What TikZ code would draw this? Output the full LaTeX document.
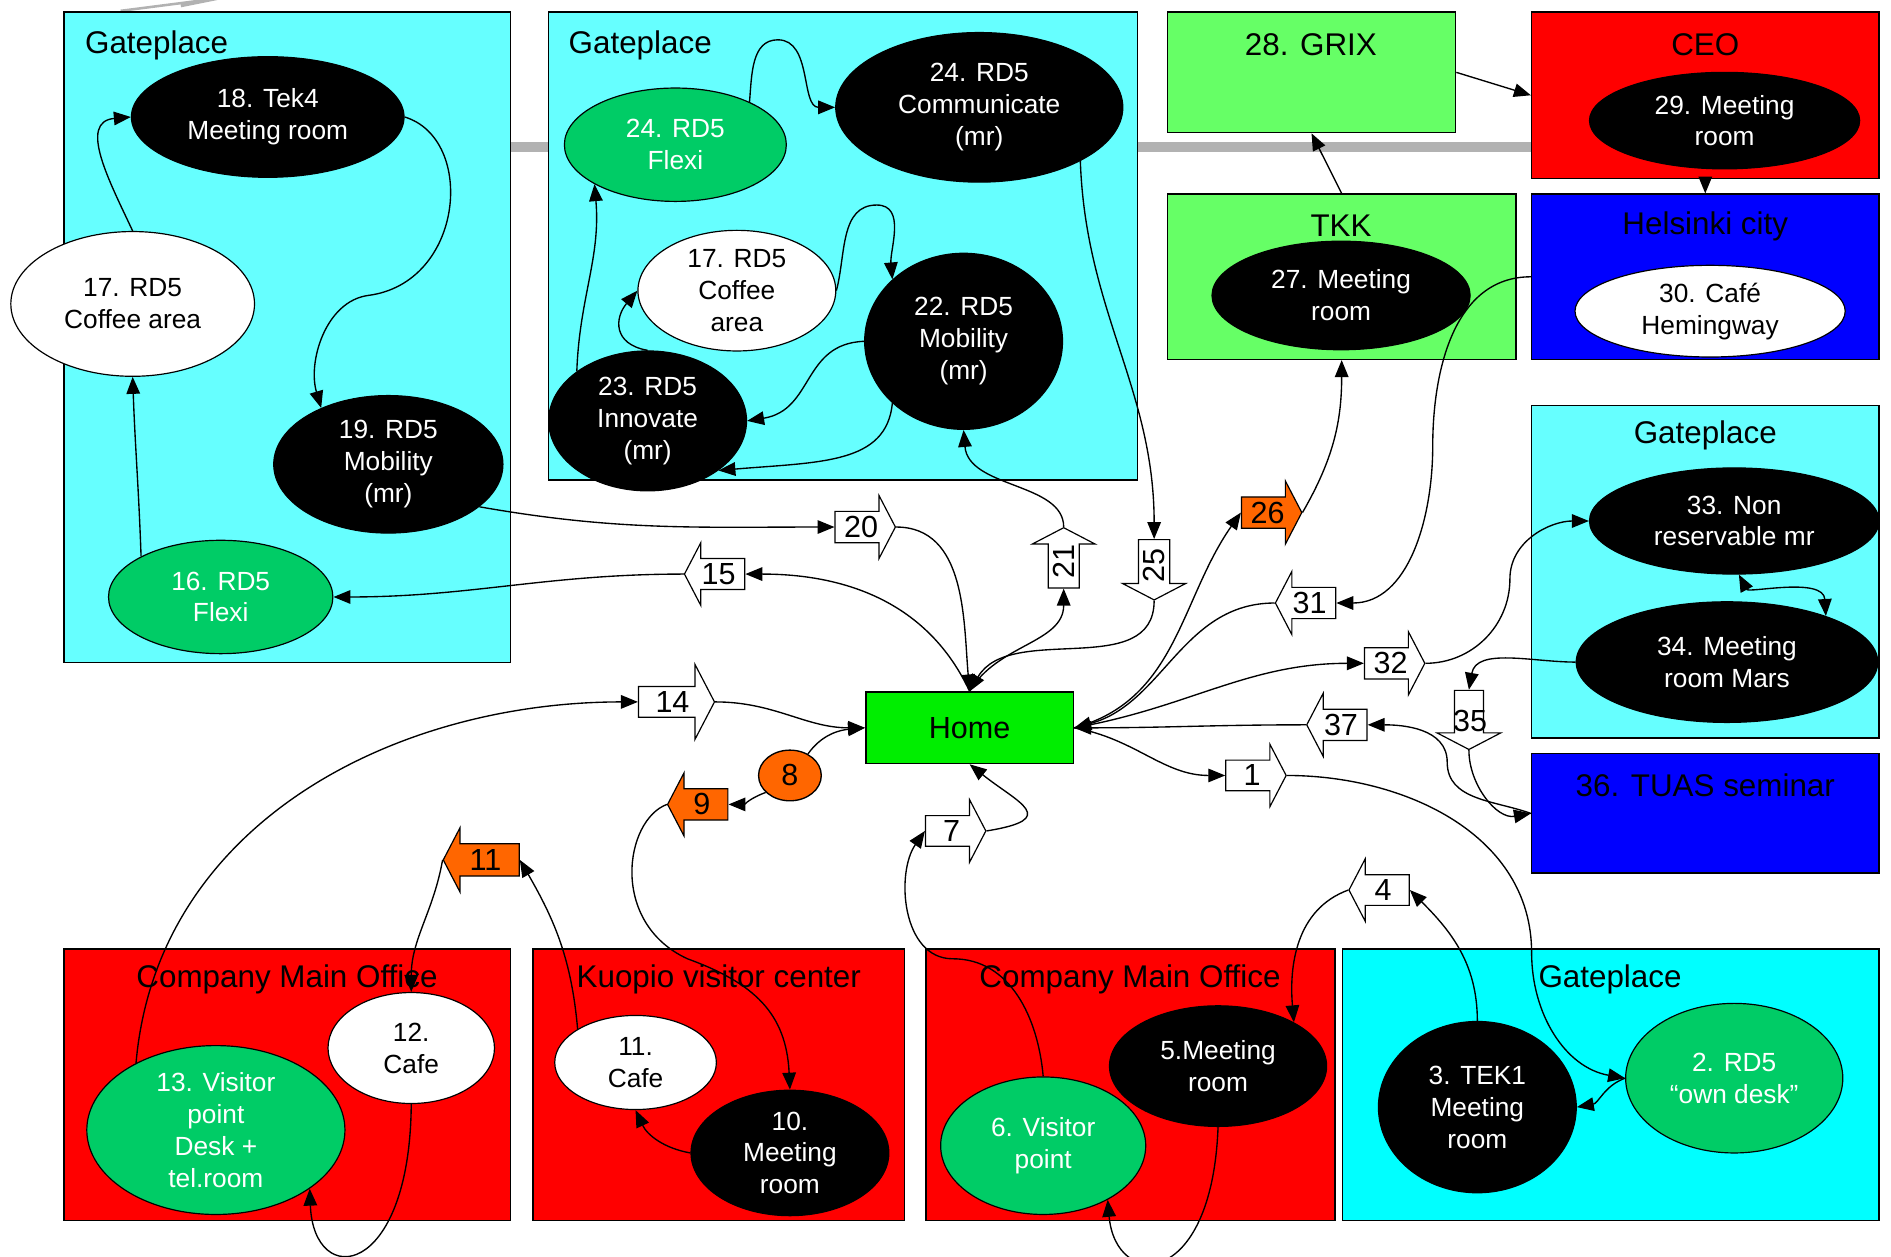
\documentclass[tikz,border=0pt]{standalone}
\usepackage{fontspec}
\setmainfont{Liberation Sans}
\usetikzlibrary{shapes.geometric,shapes.arrows,arrows.meta}

\definecolor{gpcyan}{HTML}{66FFFF}
\definecolor{gpaqua}{HTML}{00FFFF}
\definecolor{grixgreen}{HTML}{66FF66}
\definecolor{homegreen}{HTML}{00EE00}
\definecolor{deskgreen}{HTML}{00CC66}
\definecolor{visorange}{HTML}{FF6600}
\definecolor{bandgray}{HTML}{B2B2B2}

\newcommand{\zonefont}{\fontsize{18.5}{22}\selectfont}
\newcommand{\roomfont}{\fontsize{15.5}{18.8}\selectfont}
\newcommand{\numfont}{\fontsize{18}{21}\selectfont}

\begin{document}
\begin{tikzpicture}[
		x=0.025cm,y=0.025cm,
		>={Triangle[length=10pt,width=8pt]},
		line width=0.8pt,
		zone/.style={rectangle,draw,line width=0.8pt,inner sep=0pt},
		zonetitle/.style={font=\zonefont,inner sep=0pt},
		room/.style={ellipse,draw,line width=0.7pt,inner sep=0pt,align=center,font=\roomfont},
		meet/.style={room,fill=black,text=white},
		flexi/.style={room,fill=deskgreen,text=white},
		cafe/.style={room,fill=white,text=black},
		blockarrow/.style={single arrow,draw,line width=0.7pt,fill=white,font=\numfont,anchor=tip,inner xsep=2pt,inner ysep=2.5pt,single arrow head extend=0.33cm,single arrow tip angle=125,minimum height=1.25cm},
		leftarrow/.style={blockarrow,shape border rotate=180},
		hot/.style={fill=visorange}
		]
		\useasboundingbox (0,0) rectangle (1568,-1042);
		
		% band behind the top row
		\draw[bandgray,line width=5.5pt] (400,-122) -- (1290,-122);
		\draw[bandgray,line width=1.5pt] (100,-9) -- (178,1) (150,-5) -- (180,1);
		
		\node[zone,fill=gpcyan,minimum width=9.25cm,minimum height=13.475cm](gpA) at (238,-279.5){};
		\node[zonetitle,anchor=west](gpAt) at (70,-38){Gateplace};
		\node[meet,minimum width=5.65cm,minimum height=2.5cm](r18) at (222,-97){18. Tek4\\Meeting room};
		\node[cafe,minimum width=5.05cm,minimum height=3cm](r17) at (110,-252){17. RD5\\Coffee area};
		\node[meet,minimum width=4.75cm,minimum height=2.85cm](r19) at (322,-385){19. RD5\\Mobility\\(mr)};
		\node[flexi,minimum width=4.65cm,minimum height=2.35cm](r16) at (183,-495){16. RD5\\Flexi};
		
		\node[zone,fill=gpcyan,minimum width=12.2cm,minimum height=9.7cm](gpB) at (699,-204){};
		\node[zonetitle,anchor=west](gpBt) at (471,-38){Gateplace};
		\node[flexi,minimum width=4.6cm,minimum height=2.35cm](r24f) at (560,-120){24. RD5\\Flexi};
		\node[meet,minimum width=5.95cm,minimum height=3.1cm](r24c) at (812,-89){24. RD5\\Communicate\\(mr)};
		\node[cafe,minimum width=4.1cm,minimum height=2.5cm](r17b) at (611,-241){17. RD5\\Coffee\\area};
		\node[meet,minimum width=4.1cm,minimum height=3.65cm](r22) at (799,-283){22. RD5\\Mobility\\(mr)};
		\node[meet,minimum width=4.1cm,minimum height=2.9cm](r23) at (537,-349){23. RD5\\Innovate\\(mr)};
		
		\node[zone,fill=grixgreen,minimum width=5.975cm,minimum height=2.5cm](grix) at (1087.5,-60){};
		\node[zonetitle](grixt) at (1087,-37){28. GRIX};
		\node[zone,fill=red,minimum width=7.2cm,minimum height=3.45cm](ceo) at (1414,-79){};
		\node[zonetitle](ceot) at (1414,-37){CEO};
		\node[meet,minimum width=5.6cm,minimum height=2cm](r29) at (1430,-100){29. Meeting\\room};
		\node[zone,fill=grixgreen,minimum width=7.225cm,minimum height=3.425cm](tkk) at (1112.5,-229.5){};
		\node[zonetitle](tkkt) at (1112,-187){TKK};
		\node[meet,minimum width=5.35cm,minimum height=2.25cm](r27) at (1112,-245){27. Meeting\\room};
		\node[zone,fill=blue,minimum width=7.2cm,minimum height=3.425cm](hel) at (1414,-229.5){};
		\node[zonetitle](helt) at (1414,-188){Helsinki city};
		\node[cafe,minimum width=5.6cm,minimum height=1.9cm](r30) at (1418,-258){30. Café\\Hemingway};
		
		\node[zone,fill=gpcyan,minimum width=7.2cm,minimum height=6.9cm](gpR) at (1414,-474){};
		\node[zonetitle](gpRt) at (1414,-361){Gateplace};
		\node[meet,minimum width=6cm,minimum height=2.2cm](r33) at (1438,-432){33. Non\\reservable mr};
		\node[meet,minimum width=6.25cm,minimum height=2.5cm](r34) at (1432,-549){34. Meeting\\room Mars};
		\node[zone,fill=blue,minimum width=7.2cm,minimum height=2.475cm](tuas) at (1414,-674.5){};
		\node[zonetitle](tuast) at (1414,-651){36. TUAS seminar};
		
		\node[zone,fill=homegreen,line width=1pt,minimum width=4.3cm,minimum height=1.475cm,font=\numfont](home) at (804,-603.5){Home};
		
		\node[zone,fill=red,minimum width=9.25cm,minimum height=5.625cm](cmoA) at (238,-899.5){};
		\node[zonetitle](cmoAt) at (238,-812){Company Main Office};
		\node[flexi,minimum width=5.35cm,minimum height=3.5cm](r13) at (179,-937){13. Visitor\\point\\Desk +\\tel.room};
		\node[cafe,minimum width=3.45cm,minimum height=2.3cm](r12) at (341,-869){12.\\Cafe};
		\node[zone,fill=red,minimum width=7.7cm,minimum height=5.625cm](kvc) at (596,-899.5){};
		\node[zonetitle](kvct) at (596,-812){Kuopio visitor center};
		\node[cafe,minimum width=3.35cm,minimum height=1.95cm](r11) at (527,-881){11.\\Cafe};
		\node[meet,minimum width=4.1cm,minimum height=2.6cm](r10) at (655,-956){10.\\Meeting\\room};
		\node[zone,fill=red,minimum width=8.475cm,minimum height=5.625cm](cmoB) at (937.5,-899.5){};
		\node[zonetitle](cmoBt) at (937,-812){Company Main Office};
		\node[meet,minimum width=4.5cm,minimum height=2.5cm](r5) at (1010,-884){5.Meeting\\room};
		\node[flexi,minimum width=4.25cm,minimum height=2.85cm](r6) at (865,-950){6. Visitor\\point};
		\node[zone,fill=gpaqua,minimum width=11.125cm,minimum height=5.625cm](gpC) at (1335.5,-899.5){};
		\node[zonetitle](gpCt) at (1335,-812){Gateplace};
		\node[meet,minimum width=4.1cm,minimum height=3.55cm](r3) at (1225,-918){3. TEK1\\Meeting\\room};
		\node[flexi,minimum width=4.5cm,minimum height=3.1cm](r2) at (1438,-894){2. RD5\\“own desk”};
		
		% step arrows
		\node[blockarrow](a1) at (1067,-643){1};
		\node[leftarrow](a4) at (1118,-738){4};
		\node[blockarrow](a7) at (818,-689){7};
		\node[ellipse,draw,fill=visorange,font=\numfont,minimum width=1.3cm,minimum height=1.05cm,inner sep=0pt](n8) at (655,-643){8};
		\node[leftarrow,hot](a9) at (553,-667){9};
		\node[leftarrow,hot,minimum height=1.575cm,inner ysep=3pt](a11) at (367,-713){11};
		\node[blockarrow,minimum height=1.575cm,single arrow head extend=0.46cm](a14) at (593,-582){14};
		\node[leftarrow](a15) at (567,-476){15};
		\node[blockarrow](a20) at (743,-437){20};
		\node[blockarrow,rotate=90](a21) at (882,-437){21};
		\node[leftarrow,rotate=90](a25) at (957,-498){25};
		\node[blockarrow,hot](a26) at (1080,-425){26};
		\node[leftarrow](a31) at (1057,-500){31};
		\node[blockarrow](a32) at (1182,-550){32};
		\node[leftarrow,rotate=90,inner ysep=8.2pt,single arrow head extend=0.36cm,minimum height=1.225cm](a35) at (1218,-622){};
		\node[font=\numfont,inner sep=0pt](t35) at (1219,-598){35};
		\node[leftarrow](a37) at (1083,-601){37};
		
		\path[->]
		(r16.153) edge [out=92,in=-88] (r17.south)
		(r17.north) edge [out=115,in=185,looseness=1.2] (r18.west)
		(r19.-25) edge [out=-10,in=180] (a20.tail)
		(a15.tip) edge [out=180,in=0] (r16.east)
		(r23.145) edge [out=88,in=-85] (r24f.206)
		(r23.north) edge [out=170,in=230,looseness=1.5] (r17b.west)
		(r24c.-28) edge [out=-88,in=90] (a25.tail)
		(grix.east) edge (ceo.west)
		(tkk.north) edge (grix.south)
		(ceo.south) edge (hel.north)
		(a26.tip) edge [out=60,in=-90] (tkk.south)
		(r34.west) edge [out=180,in=80] (a35.tail)
		(a35.tip) edge [out=-90,in=190] (tuas.west)
		(a20.tip) edge [out=0,in=95] (home.north)
		(home.north) edge [out=115,in=0] (a15.tail)
		(home.north) edge [out=60,in=-90] (a21.tail)
		(a25.tip) edge [out=-90,in=60] (home.north)
		(home.east) edge [out=15,in=235] (a26.tail)
		(a31.tip) edge [out=180,in=15] (home.east)
		(home.east) edge [out=10,in=180] (a32.tail)
		(a37.tip) edge [out=180,in=0] (home.east)
		(home.east) edge [out=-10,in=180] (a1.tail)
		(a14.tip) edge [out=0,in=180] (home.west)
		(n8.50) edge [out=55,in=185] (home.west)
		(n8.215) edge [out=200,in=0] (a9.tail)
		(r10.west) edge [out=170,in=-65] (r11.south)
		(r11.150) edge [out=95,in=-60] (a11.tail)
		(a11.tip) edge [out=-100,in=90] (r12.north)
		(r13.140) edge [out=85,in=180] (a14.tail)
		(r3.north) edge [out=90,in=-45] (a4.tail)
		(a4.tip) edge [out=200,in=95] (r5.30)
		(r2.west) edge [out=200,in=10] (r3.east)
		;
		
		\draw[->] (r18.east) .. controls (395,-115) and (385,-235) .. (305,-245) .. controls (270,-250) and (255,-300) .. (r19.140);
		\draw[->] (r24f.30) to[out=85,in=180] (645,-33) to[out=0,in=180] (r24c.west);
		\draw[->] (r17b.east) to[out=75,in=180] (727,-170) to[out=0,in=95] (r22.139);
		\draw[->] (r22.west) .. controls (665,-285) and (675,-340) .. (r23.east);
		\draw[->] (r22.-139) .. controls (735,-385) and (680,-383) .. (r23.-35);
		\draw[->] (a21.tip) .. controls (882,-400) and (803,-405) .. (r22.south);
		\draw[->] (hel.west) to[out=180,in=90] (1188,-370) to[out=-90,in=0] (a31.tail);
		\draw[<->] (r33.-85) .. controls (1450,-492) and (1512,-478) .. (r34.25);
		\draw[->] (a32.tip) to[out=0,in=-90] (1252,-480) to[out=90,in=180] (r33.west);
		\draw[->] (tuas.west) to[out=160,in=-90] (1200,-632) to[out=90,in=0] (a37.tail);
		\draw[->] (a7.tip) .. controls +(62,10) and +(40,-32) .. (home.south);
		\draw[->] (a9.tip) .. controls (518,-680) and (505,-765) .. (570,-795) .. controls (625,-815) and (652,-840) .. (r10.north);
		\draw[->] (r12.south) .. controls (340,-1060) and (260,-1070) .. (r13.-32);
		\draw[->] (r5.south) .. controls (1005,-1070) and (925,-1070) .. (r6.-40);
		\draw[->] (r6.north) to[out=95,in=0] (790,-795) to[out=180,in=235] (a7.tail);
		\draw[->] (a1.tip) to[out=0,in=90] (1270,-790) to[out=-90,in=170] (r2.west);
		
		\end{tikzpicture}
\end{document}
